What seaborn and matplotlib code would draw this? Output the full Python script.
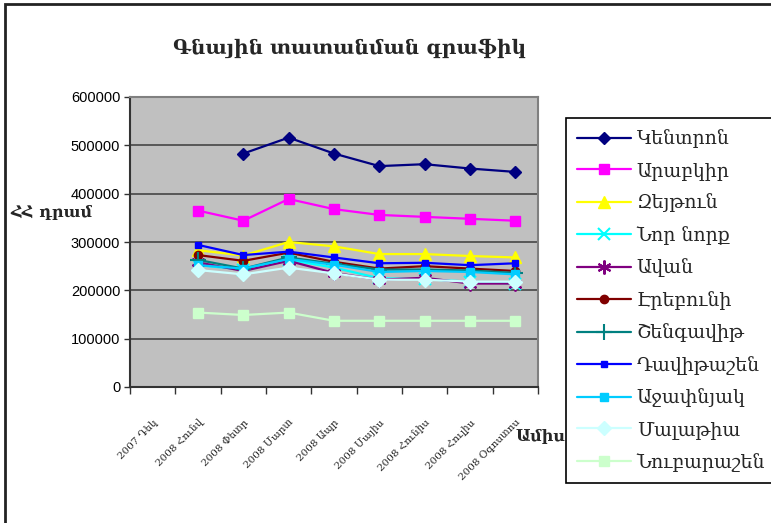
import numpy as np
import pandas as pd
import matplotlib
matplotlib.use("Agg")
import matplotlib.pyplot as plt
import seaborn as sns
from matplotlib.patches import Rectangle

nan = np.nan

# ---- data ----
categories = ["2007 Դեկ", "2008 Հունվ", "2008 Փետր", "2008 Մարտ", "2008 Ապր",
              "2008 Մայիս", "2008 Հունիս", "2008 Հուլիս", "2008 Օգոստոս"]
series_names = ["Կենտրոն", "Արաբկիր", "Զեյթուն", "Նոր նորք", "Ավան", "Էրեբունի",
                "Շենգավիթ", "Դավիթաշեն", "Աջափնյակ", "Մալաթիա", "Նուբարաշեն"]
kentron    = [nan, nan, 483000, 516000, 483000, 457000, 461000, 452000, 445000]
arabkir    = [nan, 365000, 344000, 389000, 368000, 356000, 352000, 348000, 344000]
zeytun     = [nan, 283000, 272000, 300000, 291000, 275000, 275000, 271000, 268000]
nor_nork   = [nan, 252000, 243000, 263000, 247000, 225000, 223000, 218000, 214000]
avan       = [nan, 258000, 240000, 261000, 236000, 222000, 226000, 214000, 214000]
erebuni    = [nan, 273000, 261000, 278000, 259000, 245000, 250000, 245000, 240000]
shengavit  = [nan, 263000, 245000, 268000, 255000, 243000, 243000, 241000, 236000]
davitashen = [nan, 294000, 273000, 280000, 268000, 256000, 257000, 252000, 256000]
ajapnyak   = [nan, 252000, 245000, 265000, 253000, 238000, 240000, 238000, 233000]
malatia    = [nan, 242000, 233000, 247000, 235000, 222000, 222000, 218000, 218000]
nubarashen = [nan, 154000, 149000, 154000, 137000, 137000, 137000, 137000, 137000]
y_ticks = [0, 100000, 200000, 300000, 400000, 500000, 600000]

values = [kentron, arabkir, zeytun, nor_nork, avan, erebuni, shengavit,
          davitashen, ajapnyak, malatia, nubarashen]

colors = ["#000080", "#FF00FF", "#FFFF00", "#00FFFF", "#800080", "#800000",
          "#008080", "#0000FF", "#00CCFF", "#CCFFFF", "#CCFFCC"]
markers = ["D", "s", "^", "x", (6, 2, 0), "o", "+", "s", "s", "D", "s"]
msizes = [6, 7, 8, 9, 10, 6, 11, 5, 6, 7, 7]
mews = [1, 1, 1, 1.5, 1.5, 1, 1.5, 1, 1, 1, 1]

sns.set_theme(style="white")
arm = ["DejaVu Serif"]
plt.rcParams["font.family"] = ["Liberation Sans", "DejaVu Sans"]

fig = plt.figure(figsize=(7.71, 5.23), dpi=100)
ax = fig.add_axes([130/771, 1-387/523, (538-130)/771, (387-97)/523])
ax.set_facecolor("#C0C0C0")

x = np.arange(len(categories))
for i, (name, vals) in enumerate(zip(series_names, values)):
    df = pd.DataFrame({"x": x, "y": vals})
    sns.lineplot(data=df, x="x", y="y", ax=ax, color=colors[i], marker=markers[i],
                 markersize=msizes[i], markeredgecolor=colors[i],
                 markerfacecolor=colors[i], markeredgewidth=mews[i],
                 linewidth=1.6, label=name, zorder=3+i, sort=False)

ax.set_xlim(-0.5, len(categories)-0.5)
ax.set_ylim(0, 600000)
ax.set_yticks(y_ticks)
ax.set_yticklabels([str(v) for v in y_ticks], fontsize=10.5, color="black")
ax.yaxis.grid(True, color="#505050", linewidth=1.3)
ax.xaxis.grid(False)
ax.set_axisbelow(True)

ax.set_xticks(x)
ax.set_xticklabels(categories, rotation=45, ha="right", rotation_mode="anchor",
                   fontsize=7.5, family=arm)
ax.set_xticks(np.arange(-0.5, len(categories), 1), minor=True)
ax.tick_params(axis="x", which="major", length=0, pad=22)
ax.tick_params(axis="x", which="minor", length=5, width=1, color="#333333",
               direction="out", bottom=True)
ax.tick_params(axis="y", length=4, width=1, color="#333333", direction="out",
               left=True, pad=3)

for s in ["left", "bottom"]:
    ax.spines[s].set_color("#333333")
    ax.spines[s].set_linewidth(1.5)
for s in ["top", "right"]:
    ax.spines[s].set_color("#808080")
    ax.spines[s].set_linewidth(1.5)

ax.set_xlabel("")
ax.set_ylabel("")
ax.get_legend().remove()

fig.text(350/771, 1-48/523, "Գնային տատանման գրաֆիկ", ha="center", va="center",
         fontsize=14.5, fontweight="bold", family=arm)
fig.text(10/771, 1-213/523, "ՀՀ դրամ", ha="left", va="center",
         fontsize=11.5, fontweight="bold", family=arm)
fig.text(515/771, 1-437/523, "Ամիս", ha="left", va="center",
         fontsize=11.5, fontweight="bold", family=arm)

handles, labels = ax.get_legend_handles_labels()
leg = fig.legend(handles, labels, loc="upper left",
                 bbox_to_anchor=(566/771, 1-118/523, (900-566)/771, 0.0),
                 mode="expand", bbox_transform=fig.transFigure,
                 prop={"family": arm, "size": 13.6}, frameon=True,
                 fancybox=False, edgecolor="black", framealpha=1,
                 handlelength=2.85, handletextpad=0.3, labelspacing=0.72,
                 borderpad=0.6, borderaxespad=0)
leg.get_frame().set_linewidth(1.2)

fig.patches.append(Rectangle((5/771, -0.05), 1.2, 1.05 - 4/523, transform=fig.transFigure,
                             fill=False, edgecolor="#222222", linewidth=2, zorder=0))

fig.savefig("out.png", dpi=100)
